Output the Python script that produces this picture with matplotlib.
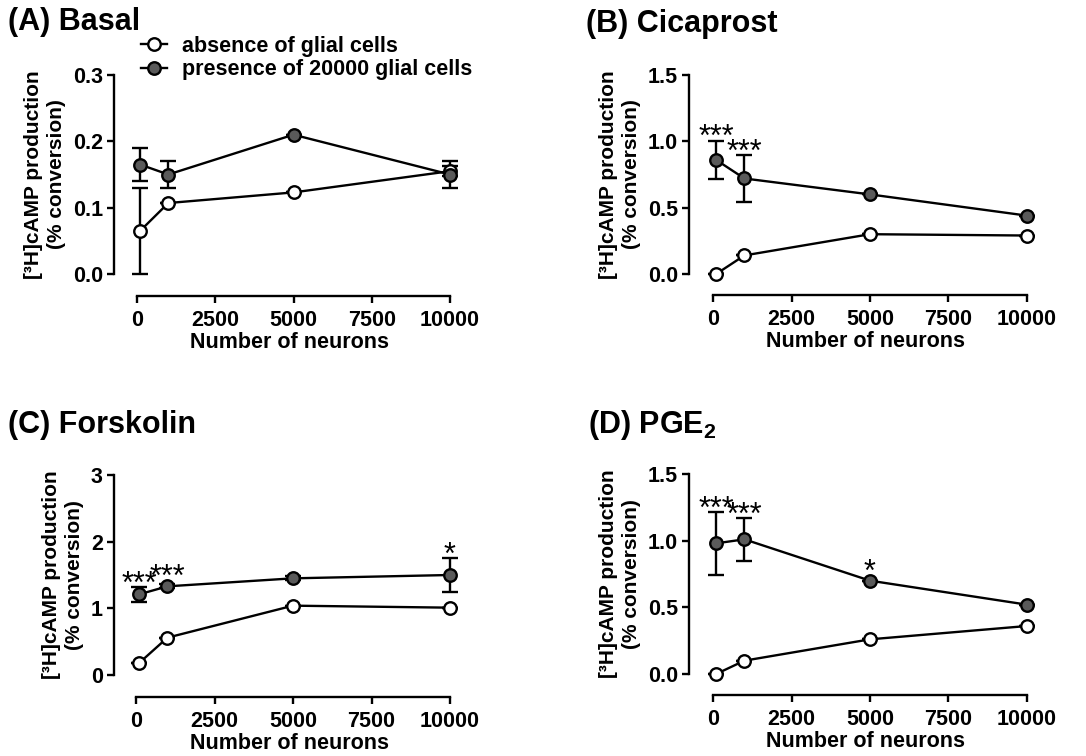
import numpy as np
import matplotlib
matplotlib.use("Agg")
import matplotlib.pyplot as plt
from matplotlib.ticker import FormatStrFormatter
from matplotlib.lines import Line2D

plt.rcParams['font.family'] = ['Liberation Sans', 'DejaVu Sans']
plt.rcParams['font.weight'] = 'bold'
plt.rcParams['axes.labelweight'] = 'bold'
plt.rcParams['mathtext.default'] = 'regular'

# data
neurons = [100, 1000, 5000, 10000]
xticks = [0, 2500, 5000, 7500, 10000]

basal_abs = [0.065, 0.107, 0.123, 0.155]
basal_abs_err = [0.065, 0.0, 0.0, 0.008]
basal_pres = [0.165, 0.150, 0.210, 0.150]
basal_pres_err = [0.025, 0.02, 0.0, 0.02]

cica_abs = [0.0, 0.14, 0.30, 0.29]
cica_abs_err = [0, 0, 0, 0]
cica_pres = [0.86, 0.72, 0.60, 0.44]
cica_pres_err = [0.145, 0.175, 0.0, 0.0]
cica_stars = ['***', '***', '', '']

forsk_abs = [0.18, 0.56, 1.04, 1.01]
forsk_abs_err = [0, 0, 0, 0]
forsk_pres = [1.21, 1.33, 1.45, 1.50]
forsk_pres_err = [0.11, 0.03, 0.03, 0.25]
forsk_stars = ['***', '***', '', '*']

pge_abs = [0.0, 0.10, 0.26, 0.36]
pge_abs_err = [0, 0, 0, 0]
pge_pres = [0.98, 1.01, 0.70, 0.52]
pge_pres_err = [0.235, 0.16, 0.0, 0.0]
pge_stars = ['***', '***', '*', '']

W, H = 1086, 756
fig = plt.figure(figsize=(W / 100, H / 100), dpi=100)

# pixel layout: y-axis x, x=0, x=10000, y top (ymax), y=0, x-axis y
panels = [
    dict(title='(A) Basal', tpos=(8, 22), geo=(114, 137, 450, 75, 274, 296),
         ymax=0.3, yt=[0, 0.1, 0.2, 0.3], fmt='%.1f',
         abs_=(basal_abs, basal_abs_err), pres=(basal_pres, basal_pres_err), stars=None),
    dict(title='(B) Cicaprost', tpos=(586, 24), geo=(689, 713, 1027, 75, 274, 295),
         ymax=1.5, yt=[0, 0.5, 1.0, 1.5], fmt='%.1f',
         abs_=(cica_abs, cica_abs_err), pres=(cica_pres, cica_pres_err), stars=cica_stars),
    dict(title='(C) Forskolin', tpos=(8, 425), geo=(114, 136, 450, 475, 675, 697),
         ymax=3, yt=[0, 1, 2, 3], fmt='%d',
         abs_=(forsk_abs, forsk_abs_err), pres=(forsk_pres, forsk_pres_err), stars=forsk_stars),
    dict(title='(D) PGE$_2$', tpos=(588, 425), geo=(689, 713, 1027, 474, 674, 695),
         ymax=1.5, yt=[0, 0.5, 1.0, 1.5], fmt='%.1f',
         abs_=(pge_abs, pge_abs_err), pres=(pge_pres, pge_pres_err), stars=pge_stars),
]

gray = '#5a5a5a'
axes = []
for p in panels:
    L, x0, x1, T, y0, B = p['geo']
    ymax = p['ymax']
    extra = 15
    sx = (x1 - x0) / 10000.0
    sy = (y0 - T) / ymax
    ax = fig.add_axes([L / W, 1 - B / H, (x1 + extra - L) / W, (B - T + extra) / H])
    ax.set_xlim((L - x0) / sx, (x1 + extra - x0) / sx)
    ax.set_ylim(-(B - y0) / sy, ymax + extra / sy)
    ax.patch.set_alpha(0)

    for s in ['top', 'right']:
        ax.spines[s].set_visible(False)
    for s in ['left', 'bottom']:
        ax.spines[s].set_linewidth(1.7)
    ax.spines['left'].set_bounds(0, ymax)
    ax.spines['bottom'].set_bounds(0, 10000)
    ax.set_xticks(xticks)
    ax.set_yticks(p['yt'])
    ax.yaxis.set_major_formatter(FormatStrFormatter(p['fmt']))
    ax.tick_params(width=1.7, length=5, labelsize=15.5)
    ax.tick_params(axis='x', pad=5)
    ax.tick_params(axis='y', pad=3)

    for (y, e), mfc in [(p['abs_'], 'white'), (p['pres'], gray)]:
        ax.errorbar(neurons, y, yerr=e, fmt='none', ecolor='k', elinewidth=1.7,
                    capsize=5.5, capthick=1.7, zorder=2)
        ax.plot(neurons, y, '-o', color='k', lw=1.7, ms=9, mfc=mfc, mec='k',
                mew=1.7, zorder=3)

    if p['stars']:
        y, e = p['pres']
        for xi, yi, ei, st in zip(neurons, y, e, p['stars']):
            if not st:
                continue
            if ei * sy > 6:
                top, off = yi + ei, -4
            else:
                top, off = yi, 0
            ax.annotate(st, (xi, top), xytext=(0, off), textcoords='offset points',
                        ha='center', va='baseline', fontsize=22, fontweight='normal')

    ax.set_xlabel('Number of neurons', fontsize=15.5, labelpad=1)
    ax.set_ylabel('[³H]cAMP production\n(% conversion)', fontsize=15,
                  linespacing=1.25, labelpad=5)
    lo, hi = ax.get_ylim()
    ax.yaxis.label.set_y((ymax / 2 - lo) / (hi - lo))

    fig.text(p['tpos'][0] / W, 1 - p['tpos'][1] / H, p['title'], fontsize=22,
             ha='left', va='center')
    axes.append(ax)

handles = [
    Line2D([], [], color='k', lw=1.7, marker='o', ms=9, mfc='white', mec='k', mew=1.7),
    Line2D([], [], color='k', lw=1.7, marker='o', ms=9, mfc=gray, mec='k', mew=1.7),
]
axes[0].legend(handles, ['absence of glial cells', 'presence of 20000 glial cells'],
               loc='upper left', bbox_to_anchor=(141 / W, 1 - 36 / H),
               bbox_transform=fig.transFigure, frameon=False, fontsize=15.5,
               handlelength=1.2, handletextpad=0.7, labelspacing=0.1,
               borderpad=0, borderaxespad=0)

fig.savefig('out.png', dpi=100)
